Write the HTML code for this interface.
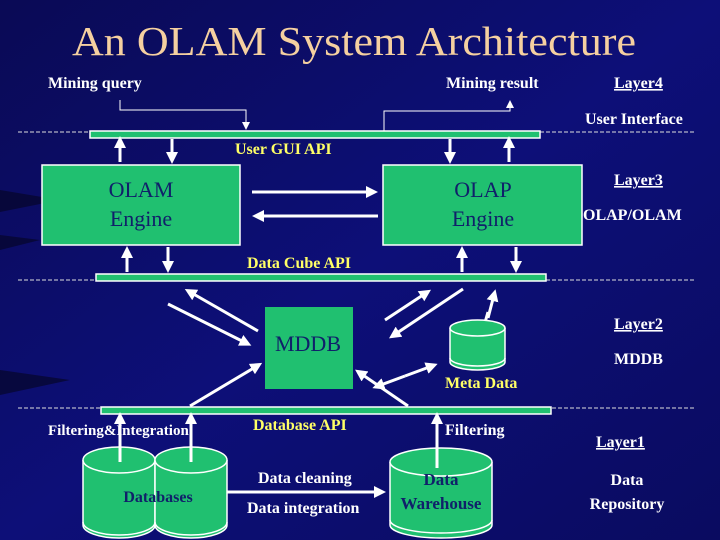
<!DOCTYPE html>
<html><head><meta charset="utf-8"><style>
html,body{margin:0;padding:0;width:720px;height:540px;overflow:hidden;background:#0b0c6a}
svg{display:block}
text{font-family:"Liberation Serif",serif}
.w{fill:#fff;font-weight:bold;font-size:16px}
.y{fill:#ffff66;font-weight:bold;font-size:16px}
.n{fill:#10206a;font-size:22px}
</style></head><body>
<svg width="720" height="540" viewBox="0 0 720 540" xmlns="http://www.w3.org/2000/svg">
<defs>
<linearGradient id="bg" x1="0" y1="0" x2="1" y2="1">
<stop offset="0" stop-color="#0a0a55"/><stop offset="0.5" stop-color="#0d0f78"/><stop offset="1" stop-color="#0a0b60"/></linearGradient>
<marker id="a" markerWidth="4" markerHeight="4" refX="2" refY="2" orient="auto" markerUnits="strokeWidth"><path d="M0,0 L4,2 L0,4 z" fill="#fff"/></marker>
<marker id="s" markerWidth="8" markerHeight="8" refX="6" refY="4" orient="auto" markerUnits="userSpaceOnUse"><path d="M0,0 L8,4 L0,8 z" fill="#fff"/></marker>
</defs>
<rect width="720" height="540" fill="url(#bg)"/>
<path d="M0,190 L60,200 L0,212z" fill="#05052a" opacity="0.7"/>
<path d="M0,235 L40,240 L0,250z" fill="#05052a" opacity="0.7"/>
<path d="M0,370 L70,380 L0,395z" fill="#05052a" opacity="0.7"/>
<text x="354" y="55" text-anchor="middle" fill="#f5d0a0" style="font-size:41px" textLength="564" lengthAdjust="spacingAndGlyphs">An OLAM System Architecture</text>
<text x="48" y="88" class="w">Mining query</text>
<text x="446" y="88" class="w">Mining result</text>
<text x="614" y="88" class="w" text-decoration="underline">Layer4</text>
<text x="585" y="124" class="w">User Interface</text>
<g stroke="#ddd" stroke-dasharray="4,2" stroke-width="1">
<line x1="18" y1="132" x2="695" y2="132"/><line x1="18" y1="280" x2="695" y2="280"/><line x1="18" y1="408" x2="695" y2="408"/></g>
<rect x="90" y="131" width="450" height="7" fill="#20c070" stroke="#fff" stroke-width="1.5"/>
<rect x="96" y="274" width="450" height="7" fill="#20c070" stroke="#fff" stroke-width="1.5"/>
<rect x="101" y="407" width="450" height="7" fill="#20c070" stroke="#fff" stroke-width="1.5"/>
<polyline points="120,100 120,110 246,110 246,128" fill="none" stroke="#fff" stroke-width="1" marker-end="url(#s)"/>
<polyline points="384,131 384,111 510,111 510,102" fill="none" stroke="#fff" stroke-width="1" marker-end="url(#s)"/>
<text x="235" y="154" class="y">User GUI API</text>
<text x="247" y="268" class="y">Data Cube API</text>
<text x="253" y="430" class="y">Database API</text>
<g stroke="#fff" stroke-width="3" fill="none" marker-end="url(#a)">
<line x1="120" y1="162" x2="120" y2="142"/><line x1="172" y1="139" x2="172" y2="158"/>
<line x1="450" y1="139" x2="450" y2="158"/><line x1="509" y1="162" x2="509" y2="142"/>
<line x1="252" y1="192" x2="372" y2="192"/><line x1="378" y1="216" x2="258" y2="216"/>
<line x1="127" y1="272" x2="127" y2="252"/><line x1="168" y1="247" x2="168" y2="267"/>
<line x1="462" y1="272" x2="462" y2="252"/><line x1="516" y1="247" x2="516" y2="267"/>
<line x1="190" y1="406" x2="257" y2="366"/><line x1="408" y1="406" x2="360" y2="373"/>
<line x1="168" y1="304" x2="246" y2="343"/><line x1="258" y1="331" x2="190" y2="292"/>
<line x1="385" y1="320" x2="426" y2="293"/><line x1="463" y1="289" x2="394" y2="335"/>
<line x1="488" y1="318" x2="494" y2="295"/><line x1="488" y1="312" x2="482" y2="333"/>
<line x1="405" y1="376" x2="432" y2="366"/><line x1="405" y1="376" x2="378" y2="386"/>
<line x1="227" y1="492" x2="380" y2="492"/>
</g>
<rect x="42" y="165" width="198" height="80" fill="#20c070" stroke="#fff" stroke-width="1.5"/>
<rect x="383" y="165" width="199" height="80" fill="#20c070" stroke="#fff" stroke-width="1.5"/>
<text x="141" y="197" class="n" text-anchor="middle">OLAM</text><text x="141" y="226" class="n" text-anchor="middle">Engine</text>
<text x="483" y="197" class="n" text-anchor="middle">OLAP</text><text x="483" y="226" class="n" text-anchor="middle">Engine</text>
<text x="614" y="185" class="w" text-decoration="underline">Layer3</text>
<text x="583" y="220" class="w">OLAP/OLAM</text>
<rect x="265" y="307" width="88" height="82" fill="#20c070"/>
<text x="308" y="351" class="n" text-anchor="middle">MDDB</text>
<g fill="#20c070" stroke="#fff" stroke-width="1.5">
<path d="M450,328 L450,362 A27.5,8 0 0 0 505,362 L505,328"/><ellipse cx="477.5" cy="328" rx="27.5" ry="8"/>
<path d="M450,358 A27.5,8 0 0 0 505,358" fill="none"/>
<path d="M83,460 L83,525 A36,13 0 0 0 155,525 L155,460"/><ellipse cx="119" cy="460" rx="36" ry="13"/>
<path d="M83,522 A36,13 0 0 0 155,522" fill="none"/>
<path d="M155,460 L155,525 A36,13 0 0 0 227,525 L227,460"/><ellipse cx="191" cy="460" rx="36" ry="13"/>
<path d="M155,522 A36,13 0 0 0 227,522" fill="none"/>
<path d="M390,462 L390,525 A51,13 0 0 0 492,525 L492,462"/><ellipse cx="441" cy="462" rx="51" ry="14"/>
<path d="M390,520 A51,13 0 0 0 492,520" fill="none"/>
</g>
<g stroke="#fff" stroke-width="3" marker-end="url(#a)"><line x1="120" y1="462" x2="120" y2="418"/><line x1="191" y1="462" x2="191" y2="418"/><line x1="437" y1="468" x2="437" y2="418"/></g>
<text x="445" y="388" class="y">Meta Data</text>
<text x="614" y="329" class="w" text-decoration="underline">Layer2</text>
<text x="614" y="364" class="w">MDDB</text>
<text x="48" y="435" class="w" style="font-size:15px">Filtering&amp;Integration</text>
<text x="445" y="435" class="w">Filtering</text>
<text x="596" y="447" class="w" text-decoration="underline">Layer1</text>
<text x="627" y="485" class="w" text-anchor="middle">Data</text>
<text x="627" y="509" class="w" text-anchor="middle">Repository</text>
<text x="158" y="502" fill="#10206a" style="font-size:16px;font-weight:bold" text-anchor="middle">Databases</text>
<text x="441" y="485" fill="#10206a" style="font-size:17px;font-weight:bold" text-anchor="middle">Data</text>
<text x="441" y="509" fill="#10206a" style="font-size:17px;font-weight:bold" text-anchor="middle">Warehouse</text>
<text x="258" y="483" class="w">Data cleaning</text>
<text x="247" y="513" class="w">Data integration</text>
</svg>
</body></html>
